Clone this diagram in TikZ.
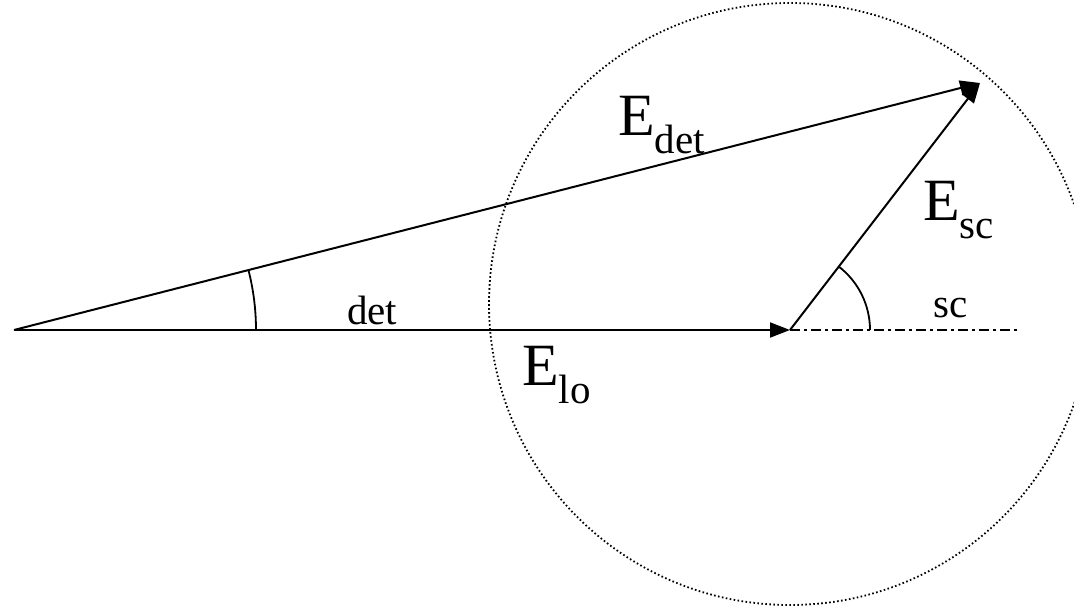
\documentclass[tikz,border=0pt]{standalone}
\usepackage{fontspec}
\setmainfont{Liberation Serif}
\usetikzlibrary{arrows.meta}
\newcommand{\bigE}[1]{\fontsize{60}{60}\selectfont E\raisebox{-18pt}{\fontsize{41}{41}\selectfont #1}}
\begin{document}
\begin{tikzpicture}[x=1pt,y=-1pt,
  vec/.style={line width=2pt,-{Triangle[length=20pt,width=15pt]}},
  circ/.style={line width=1.8pt,dash pattern=on 1.6pt off 2.4pt},
  dashdot/.style={line width=1.8pt,dash pattern=on 10pt off 4pt on 3pt off 4pt},
  anglearc/.style={line width=1.8pt},
  biglabel/.style={anchor=base west,inner sep=0pt},
  smalllabel/.style={anchor=base west,inner sep=0pt,font=\fontsize{41}{41}\selectfont}]
\useasboundingbox (0,0) rectangle (1074,608);
\coordinate (O) at (14,330);
\coordinate (L) at (790,330);
\coordinate (D) at (980,83);
\coordinate (S) at (1018,330);
\coordinate (C) at (790,304);
\draw[circ] (C) circle[radius=301];
\draw[dashdot] (L) -- (S);
\draw[vec] (O) -- (L);
\draw[vec] (O) -- (D);
\draw[vec] (L) -- (D);
\draw[anglearc] (O) ++(242,0) arc[start angle=0,end angle=-14.35,radius=242];
\draw[anglearc] (L) ++(80,0) arc[start angle=0,end angle=-52.4,radius=80];
\node[biglabel] (edet) at (618,135) {\bigE{det}};
\node[biglabel] (esc) at (923,220) {\bigE{sc}};
\node[biglabel] (elo) at (522,385) {\bigE{lo}};
\node[smalllabel] (det) at (347,324) {det};
\node[smalllabel] (sc) at (933,317) {sc};
\end{tikzpicture}
\end{document}
